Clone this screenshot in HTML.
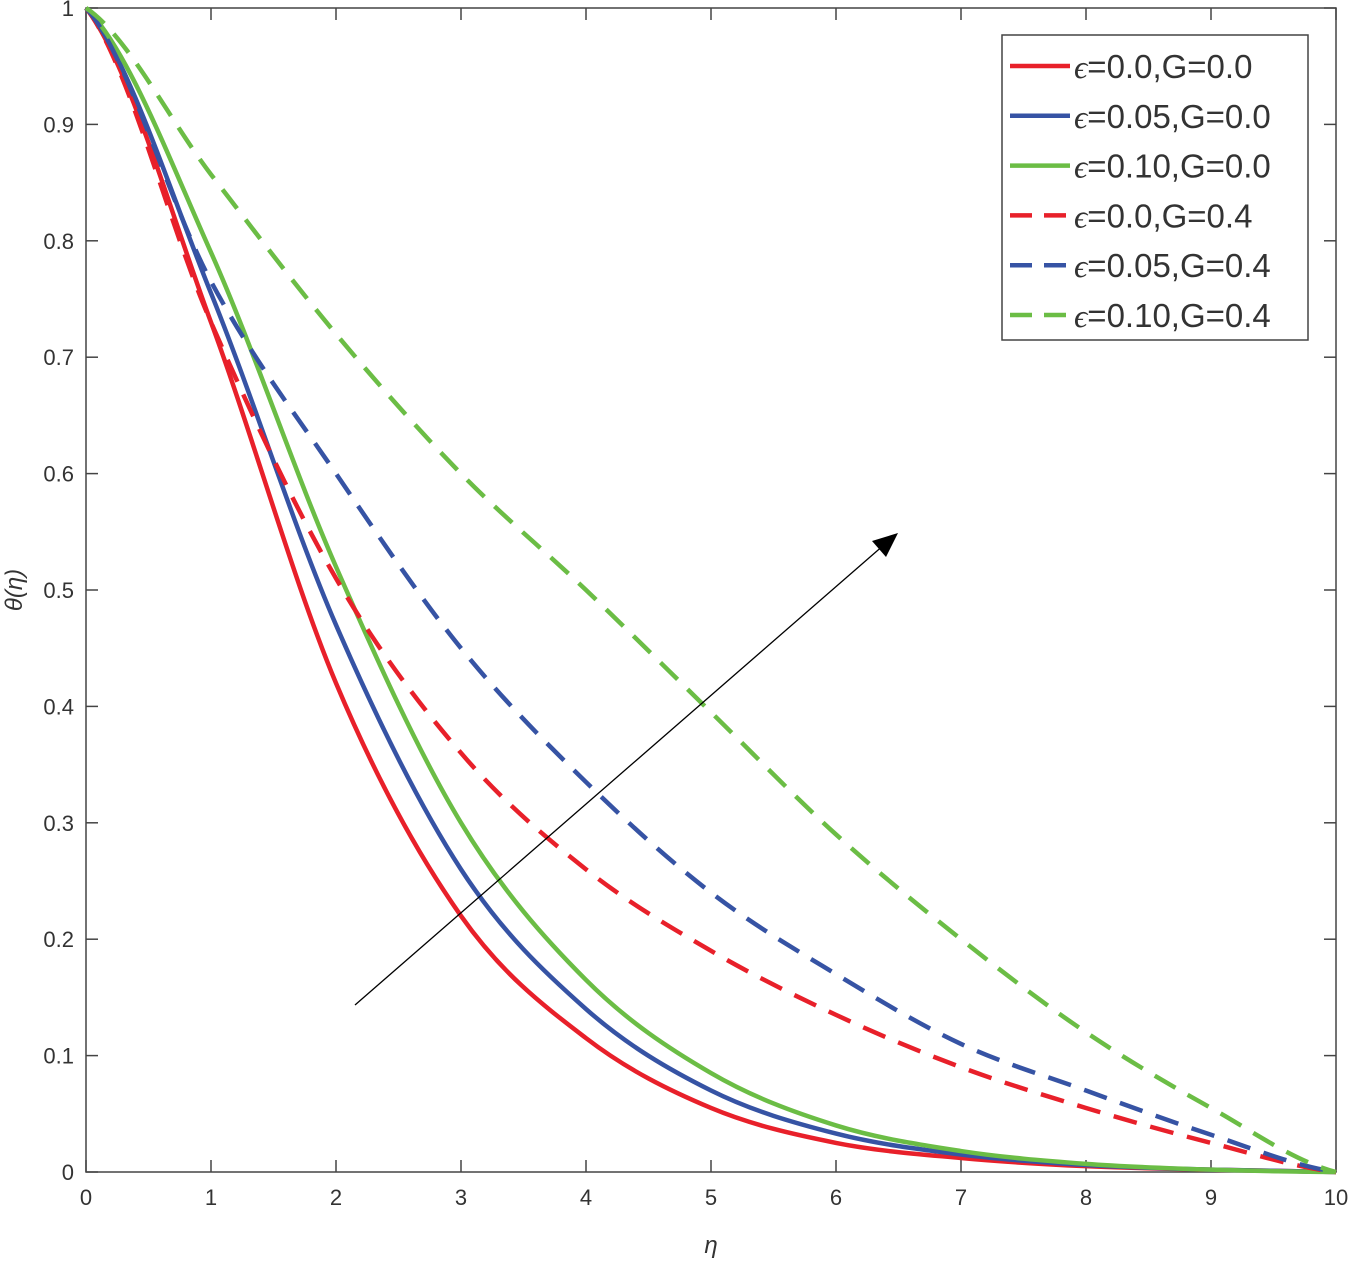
<!DOCTYPE html>
<html><head><meta charset="utf-8"><style>
html,body{margin:0;padding:0;background:#fff;}
svg text{font-family:"Liberation Sans",Arial,sans-serif;fill:#333;}
</style></head><body>
<svg id="s" width="1350" height="1258" xmlns="http://www.w3.org/2000/svg">
<rect x="86" y="8" width="1250" height="1164" fill="#fff" stroke="#444" stroke-width="1.5"/>
<g id="ticks" stroke="#444" stroke-width="1.5"></g>
<g id="labels" font-size="22"></g>
<g id="curves" fill="none" stroke-width="4.5"></g>
<line x1="355" y1="1005" x2="885" y2="544" stroke="#000" stroke-width="1.3"/>
<polygon points="898,533 872,541 886,557" fill="#000"/>
<text x="711" y="1253" font-size="24" font-style="italic" font-family="Liberation Serif" text-anchor="middle">η</text>
<text transform="translate(22,590) rotate(-90)" font-size="24" font-style="italic" font-family="Liberation Serif" text-anchor="middle">θ(η)</text>
<rect x="1002" y="35" width="306" height="305" fill="#fff" stroke="#444" stroke-width="1.5"/>
<g id="leg" font-size="33"></g>
</svg>
<script>
const X=v=>86+v*125, Y=v=>1172-v*1164;
const tk=document.getElementById('ticks'), lb=document.getElementById('labels');
let t='',l='';
for(let i=0;i<=10;i++){const x=X(i);t+=`<line x1="${x}" y1="1172" x2="${x}" y2="1160"/><line x1="${x}" y1="8" x2="${x}" y2="20"/>`;l+=`<text x="${x}" y="1205" text-anchor="middle">${i}</text>`;}
for(let i=0;i<=10;i++){const y=Y(i/10);t+=`<line x1="86" y1="${y}" x2="98" y2="${y}"/><line x1="1336" y1="${y}" x2="1324" y2="${y}"/>`;l+=`<text x="74" y="${y+8}" text-anchor="end">${i==0?'0':i==10?'1':'0.'+i}</text>`;}
tk.innerHTML=t;lb.innerHTML=l;
const R='#e8202a',B='#3653a4',G='#6bbd45';
const S=[
[R,0,[1,0.73,0.42,0.22,0.115,0.055,0.025,0.012,0.005,0.002,0]],
[B,0,[1,0.755,0.47,0.26,0.14,0.07,0.033,0.015,0.006,0.002,0]],
[G,0,[1,0.79,0.52,0.3,0.165,0.085,0.04,0.018,0.007,0.002,0]],
[R,1,[1,0.73,0.51,0.36,0.26,0.19,0.135,0.09,0.055,0.025,0]],
[B,1,[1,0.765,0.6,0.45,0.335,0.24,0.17,0.11,0.07,0.032,0]],
[G,1,[1,0.857,0.72,0.6,0.5,0.395,0.29,0.2,0.12,0.055,0]]];
let c='';
for(const [col,d,v] of S){
 let p=`M${X(0)},${Y(v[0])}`;
 for(let i=0;i<10;i++){
  const p0=v[Math.max(i-1,0)],p1=v[i],p2=v[i+1],p3=v[Math.min(i+2,10)];
  const c1=p1+(p2-p0)/6,c2=p2-(p3-p1)/6;
  p+=` C${X(i+1/3)},${Y(c1)} ${X(i+2/3)},${Y(c2)} ${X(i+1)},${Y(p2)}`;
 }
 c+=`<path d="${p}" stroke="${col}" ${d?'stroke-dasharray="24 14"':''}/>`;
}
document.getElementById('curves').innerHTML=c;
const names=['=0.0,G=0.0','=0.05,G=0.0','=0.10,G=0.0','=0.0,G=0.4','=0.05,G=0.4','=0.10,G=0.4'];
let g='';
names.forEach((n,i)=>{const y=66+i*49.8;
 g+=`<line x1="1010" y1="${y}" x2="1070" y2="${y}" stroke="${S[i][0]}" stroke-width="4.5" ${S[i][1]?'stroke-dasharray="22 12"':''}/>`;
 g+=`<text x="1074" y="${y+12}" fill="#222"><tspan font-family="Liberation Serif" font-style="italic">ϵ</tspan>${n}</text>`;});
document.getElementById('leg').innerHTML=g;
</script>
</body></html>
